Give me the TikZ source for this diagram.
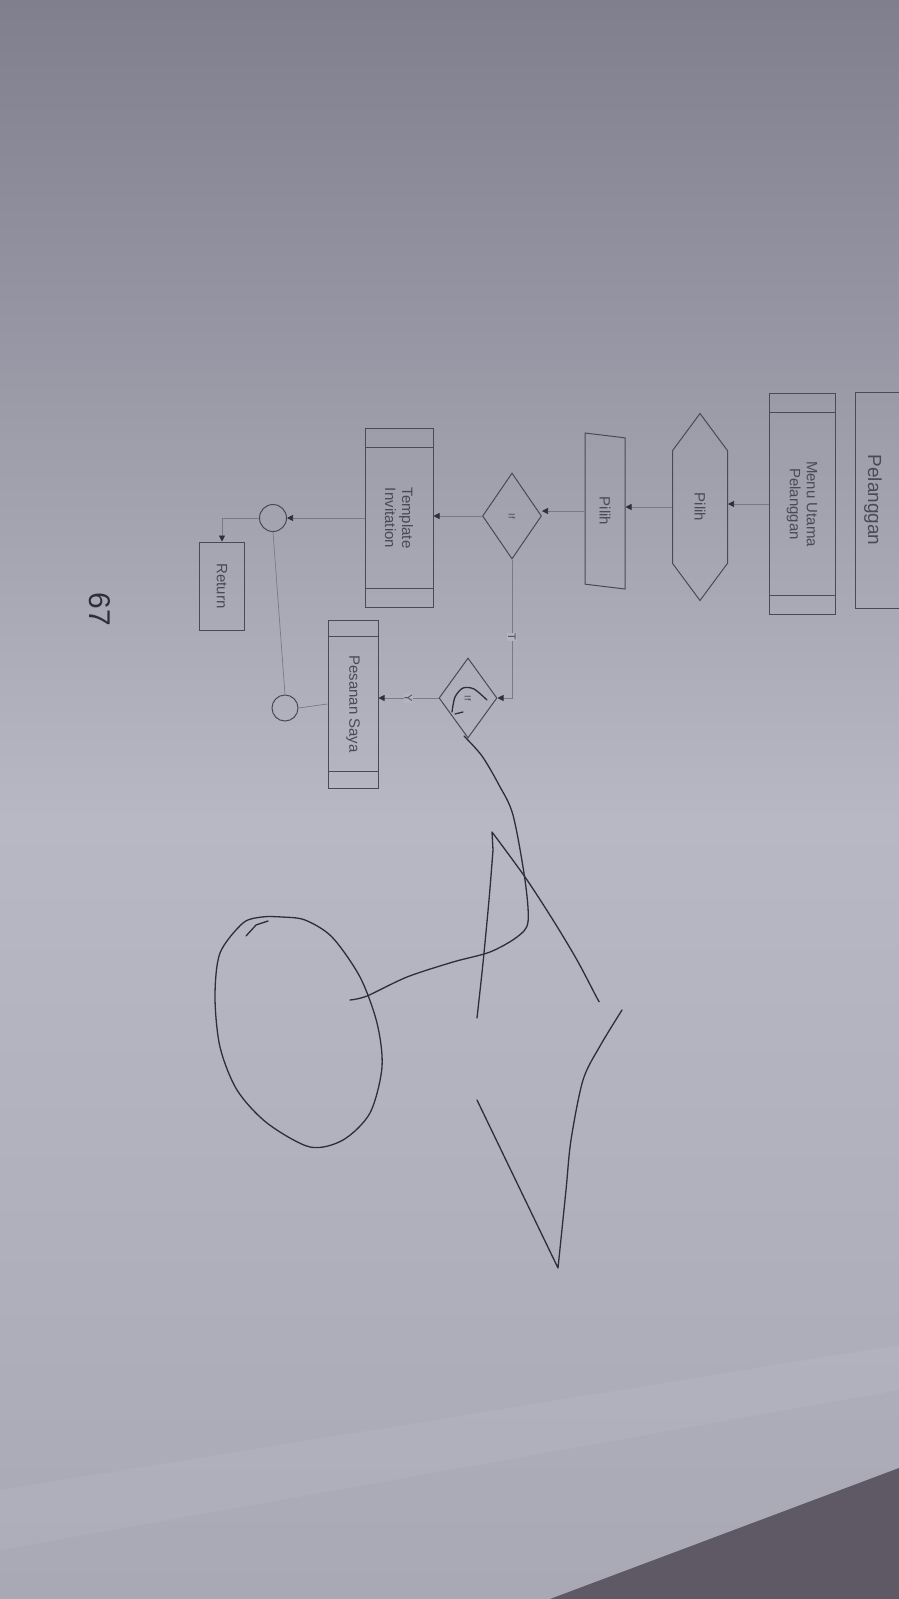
\documentclass[tikz,border=0pt]{standalone}
\usepackage{fontspec}
\setmainfont{Liberation Sans}
\usetikzlibrary{arrows.meta, positioning, calc, shapes.geometric, shapes.symbols}

\definecolor{paperTop}{HTML}{7F7F8D}
\definecolor{paperMid}{HTML}{B8B8C5}
\definecolor{paperLow}{HTML}{A9A9B6}
\definecolor{tableDark}{HTML}{5E5964}
\definecolor{inkPrint}{HTML}{4A4A56}
\definecolor{inkLine}{HTML}{7A7A86}
\definecolor{inkPen}{HTML}{2E2E3A}

\tikzset{
  box/.style={draw=inkPrint, line width=1pt, rotate=-90, text=inkPrint,
    font=\fontsize{15}{17}\selectfont, align=center, inner sep=0pt},
  procbox/.style={box, rectangle},
  prepbox/.style={box, signal, signal to=east and west, signal pointer angle=73},
  iobox/.style={box, trapezium, trapezium left angle=66, trapezium right angle=114,
    trapezium stretches body},
  decide/.style={box, diamond, font=\fontsize{9}{10}\selectfont},
  joint/.style={draw=inkPrint, line width=1pt, circle, inner sep=0pt, minimum size=27pt},
  flow/.style={draw=inkLine, line width=0.7pt},
  arr/.style={flow, -{Triangle[length=6pt, width=6pt, color=inkPen]}},
  lbl/.style={fill=paperMid!92!paperTop, rotate=-90, text=inkPrint,
    font=\fontsize{11}{12}\selectfont, inner sep=1pt},
  pen/.style={draw=inkPen, line width=1.3pt, line cap=round, line join=round},
}

\begin{document}
\begin{tikzpicture}[x=1pt, y=-1pt]
  \useasboundingbox (0,0) rectangle (899,1599);
  \clip (0,0) rectangle (899,1599);
  % photo background
  \shade[top color=paperTop, bottom color=paperMid] (0,0) rectangle (899,820);
  \shade[top color=paperMid, bottom color=paperLow] (0,820) rectangle (899,1599);
  \fill[white, opacity=0.05] (0,1490) -- (899,1345) -- (899,1390) -- (0,1550) -- cycle;
  \fill[tableDark] (550,1599) -- (899,1468) -- (899,1599) -- cycle;

  % flowchart (printed, turned)
  \node[procbox, minimum width=216pt, minimum height=70pt] (pel) at (890,500) {};
  \node[rotate=-90, text=inkPrint, font=\fontsize{19}{21}\selectfont] (pelText) at (873,500) {Pelanggan};
  \node[procbox, minimum width=221pt, minimum height=66pt] (menu) at (802,504) {Menu Utama\\Pelanggan};
  \node[prepbox, minimum width=187pt, minimum height=55pt] (hex) at (700,507) {Pilih};
  \node[iobox, minimum width=156pt, minimum height=40pt] (para) at (605,511) {Pilih};
  \node[decide, minimum width=86pt, minimum height=59pt] (if1) at (512,516) {If};
  \node[procbox, minimum width=179pt, minimum height=68pt] (tmpl) at (399,518) {Template\\Invitation};
  \node[decide, minimum width=80pt, minimum height=58pt] (if2) at (468,698) {If};
  \node[procbox, minimum width=168pt, minimum height=50pt] (pesan) at (353,704) {Pesanan Saya};
  \node[joint] (c1) at (273,518) {};
  \node[joint, minimum size=26pt] (c2) at (285,708) {};
  \node[procbox, minimum width=88pt, minimum height=45pt] (ret) at (222,586) {Return};
  \foreach \n/\f in {menu/0.09, tmpl/0.11, pesan/0.1}
    \draw[inkPrint, line width=1pt] ($(\n.north west)!\f!(\n.north east)$) -- ($(\n.south west)!\f!(\n.south east)$)
      ($(\n.north east)!\f!(\n.north west)$) -- ($(\n.south east)!\f!(\n.south west)$);

  \draw[arr] (menu.south) -- (menu.south -| hex.north);
  \draw[arr] (hex.south) -- (hex.south -| para.north);
  \draw[arr] (para.south) -- (para.south -| if1.north);
  \draw[arr] (if1.south) -- (if1.south -| tmpl.north);
  \draw[arr] (if1.east) |- (if2.north) node[lbl, pos=0.28] {T};
  \draw[arr] (if2.south) -- (if2.south -| pesan.north) node[lbl, midway] {Y};
  \draw[arr] (tmpl.south) -- (tmpl.south -| c1.east);
  \draw[flow] (pesan.south) -- (c2.east);
  \draw[flow] (c2.north) -- (c1.south);
  \draw[arr] (c1.west) -| (ret.west);

  \node[rotate=-90, text=inkPen, font=\fontsize{30}{32}\selectfont] (page) at (100,609) {67};

  % pen scribbles
  \draw[pen] plot[smooth] coordinates {(452,712) (455,697) (463,688) (474,689) (487,700)};
  \draw[pen] (455,714) -- (463,712);
  \draw[pen] plot[smooth] coordinates {(464,736) (482,756) (499,785) (513,815) (525,880)
    (528,922) (517,937) (490,952) (453,962) (407,977) (367,996) (350,1000)};
  \draw[pen] plot[smooth] coordinates {(477,1018) (483,963) (489,900) (493,850)} -- (492,832)
    -- plot[smooth] coordinates {(492,832) (525,877) (553,920) (577,960) (597,998) (599,1001)};
  \draw[pen] (477,1100) -- (558,1268)
    -- plot[smooth] coordinates {(558,1268) (566,1190) (571,1140) (583,1080) (600,1046) (622,1010)};
  \draw[pen] plot[smooth cycle] coordinates {(282,917) (305,920) (332,937) (360,977) (377,1023)
    (382,1067) (370,1113) (343,1140) (310,1147) (267,1123) (237,1090) (220,1047) (215,997)
    (220,953) (243,923) (262,917)};
  \draw[pen] (246,936) -- (256,925) -- (268,921);
\end{tikzpicture}
\end{document}
